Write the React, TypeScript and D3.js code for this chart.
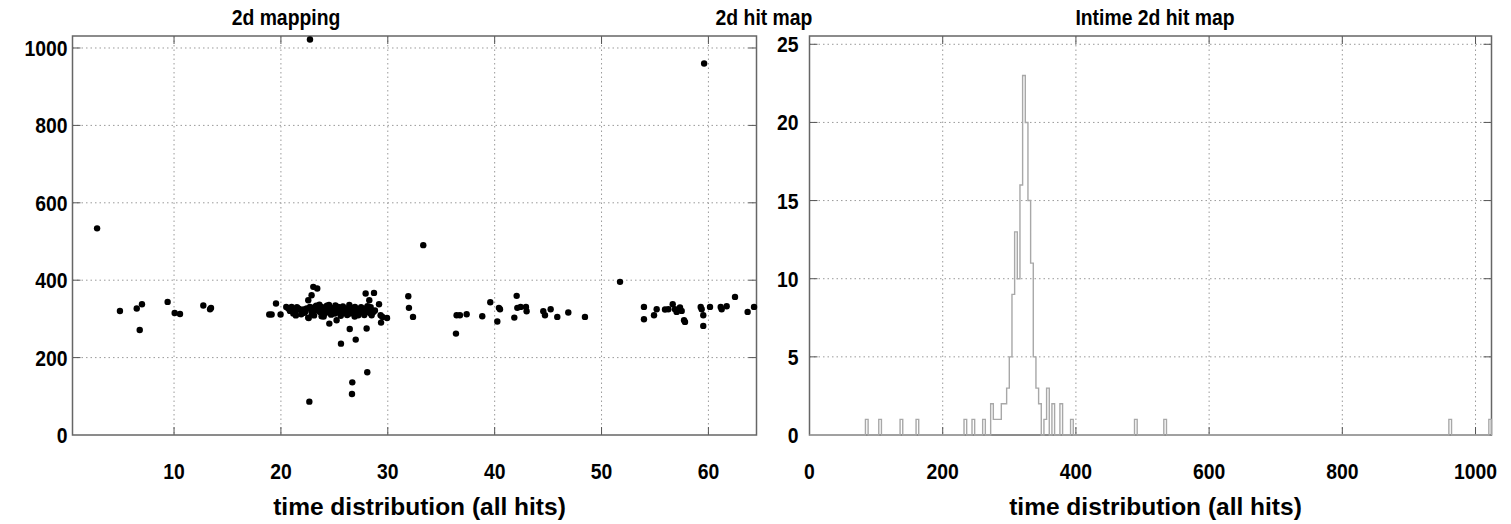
import React, { useEffect, useRef } from "react";
import * as d3 from "d3";

// scatter: channel vs time
const mapX = [
  2.8, 4.94, 6.51, 7.0, 6.79, 9.4, 10.06, 10.56, 12.74, 13.37, 13.46,
  18.91, 19.13, 19.54, 19.97,
  20.69, 20.85, 21.07, 21.16, 21.32, 21.63, 21.78, 21.94, 22.1, 22.41, 22.72, 22.87, 23.03, 23.19, 23.34, 23.5,
  23.65, 23.81, 23.97, 24.12, 24.28, 24.43, 24.59, 24.75, 24.9, 25.06, 25.21, 25.37, 25.53, 25.68, 25.84, 25.99,
  26.15, 26.31, 26.46, 26.62, 26.77, 26.93, 27.09, 27.24, 27.4, 27.55, 27.71, 28.02, 28.18, 28.33, 28.49, 28.65,
  21.0, 21.9, 22.3, 22.9, 23.3, 23.8, 24.3, 24.7, 25.0, 25.4, 25.8, 26.2, 26.6, 27.0, 27.5, 27.9, 28.4, 28.8,
  23.1, 24.0, 25.6, 26.9, 22.2, 21.4, 20.5, 27.8, 28.1, 25.1, 23.6, 24.5, 26.4, 21.5, 29.5,
  22.56, 23.81, 24.53, 25.21, 26.44, 27.0, 25.62, 28.02, 29.37, 29.33, 29.18, 27.93, 28.71, 28.27, 23.03, 23.4,
  22.87, 22.56, 22.6, 29.93,
  22.72, 22.66, 26.65, 26.68, 28.08,
  31.92, 31.98, 32.36, 33.32, 36.38, 36.44, 36.75, 37.38, 38.84, 39.59, 40.4, 40.5, 40.25, 41.84, 42.06, 42.12,
  42.43, 42.93, 42.99, 44.55, 44.71, 45.24, 45.86, 46.89, 48.45, 51.73, 53.97, 53.97, 54.91, 55.16, 55.94, 56.25,
  56.66, 56.87, 57.03, 57.34, 57.5, 57.72, 57.81, 59.28, 59.37, 59.52, 59.52, 60.15, 59.6, 61.15, 61.24, 61.71,
  62.49, 63.67, 64.27,
];
const mapY = [
  534, 320.6, 326.8, 337.9, 271.4, 343.9, 315.4, 312.8, 334.5, 325, 328.3,
  311.2, 311.2, 339.6, 311.2,
  326.7, 320.7, 325, 313.8, 316.3, 326.7, 324.1, 319.8, 324.1, 326.7, 331, 320.7, 326.7, 331, 322.4, 326.7,
  318.1, 331, 322.4, 313.8, 329.3, 322.4, 318.1, 326.7, 318.1, 313.8, 322.4, 331, 326.7, 313.8, 322.4, 316.3,
  326.7, 318.1, 313.8, 324.1, 318.1, 331, 319.8, 309.4, 320.7, 324.1, 316.3, 318.1, 324.1, 315.5, 309.4, 318.1,
  331, 312, 320, 314, 334, 317, 334, 311, 328, 317, 332, 310, 329, 313, 330, 327, 330, 322,
  309, 306, 308, 306, 316, 309, 331, 310, 333, 335, 337, 336, 336, 330, 305,
  303.4, 306.9, 287.9, 296.5, 274, 246.5, 236.1, 275, 290.5, 309.4, 337.9, 365.5, 367.2, 348.3, 382.8, 378.4,
  361.2, 348.3, 302.5, 302.5,
  1022, 86.2, 105.8, 136, 162,
  358.6, 328.5, 305.2, 490.6, 262, 309.5, 309.5, 312.1, 306.9, 343.1, 328.5, 325, 293.1, 303.4, 359.5, 328.5,
  331, 331, 319.8, 319.8, 309.5, 325, 305.2, 316.4, 305.2, 395.7, 331, 299.1, 309.5, 325, 324.1, 325,
  338, 325, 318.1, 329.3, 320.7, 296.5, 292.2, 331, 325, 309.5, 281.9, 331, 960, 331, 325, 332.8,
  356.9, 318.1, 331,
];

// time histogram, 4-count wide bins from 0 to 1024, only filled bins listed
const histBinStart = [
  84, 104, 136, 160, 232, 244, 260, 272, 276, 280, 284, 288, 292, 296, 300, 304, 308, 312, 316, 320, 324, 328,
  332, 336, 340, 344, 352, 356, 364, 376, 392, 488, 532, 960, 1020,
];
const histCount = [
  1, 1, 1, 1, 1, 1, 1, 2, 1, 1, 1, 2, 2, 3, 5, 9, 13, 10, 16, 23, 20, 15,
  11, 5, 3, 2, 1, 3, 2, 2, 1, 1, 1, 1, 1,
];
const binWidth = 4;
const histMax = 1024;

const mapXTicks = [10, 20, 30, 40, 50, 60];
const mapYTicks = [0, 200, 400, 600, 800, 1000];
const histXTicks = [0, 200, 400, 600, 800, 1000];
const histYTicks = [0, 5, 10, 15, 20, 25];

const App = () => {
  const chartRef = useRef<SVGSVGElement>(null);

  useEffect(() => {
    const svg = d3.select(chartRef.current);
    svg.selectAll("*").remove();

    const top = 36;
    const bottom = 435;
    const font = "'Liberation Sans', Arial, Helvetica, sans-serif";

    // ROOT style narrow bold labels
    const label = (g: any, text: string | number, x: number, y: number, anchor: string, size = 22) =>
      g
        .append("text")
        .attr("transform", `translate(${x},${y}) scale(0.88,1)`)
        .attr("text-anchor", anchor)
        .style("font-family", font)
        .style("font-weight", "bold")
        .style("font-size", `${size}px`)
        .text(text);

    const panel = (x: any, y: any, xTicks: number[], yTicks: number[], labelGap: number) => {
      const g = svg.append("g");
      const [xl, xr] = x.range();
      const inX = xTicks.filter((t) => x(t) > xl + 1 && x(t) < xr - 1);
      const inY = yTicks.filter((t) => y(t) < bottom - 1);

      // dotted grid
      g.selectAll(".gx")
        .data(inX)
        .enter()
        .append("line")
        .attr("x1", (d) => x(d))
        .attr("x2", (d) => x(d))
        .attr("y1", top)
        .attr("y2", bottom)
        .attr("stroke", "#9a9a9a")
        .attr("stroke-dasharray", "1.5,3");
      g.selectAll(".gy")
        .data(inY)
        .enter()
        .append("line")
        .attr("x1", xl)
        .attr("x2", xr)
        .attr("y1", (d) => y(d))
        .attr("y2", (d) => y(d))
        .attr("stroke", "#9a9a9a")
        .attr("stroke-dasharray", "1.5,3");

      // tick marks on all four sides
      inX.forEach((t) => {
        g.append("line").attr("x1", x(t)).attr("x2", x(t)).attr("y1", bottom).attr("y2", bottom - 8).attr("stroke", "#555");
        g.append("line").attr("x1", x(t)).attr("x2", x(t)).attr("y1", top).attr("y2", top + 8).attr("stroke", "#555");
      });
      inY.forEach((t) => {
        g.append("line").attr("x1", xl).attr("x2", xl + 8).attr("y1", y(t)).attr("y2", y(t)).attr("stroke", "#555");
        g.append("line").attr("x1", xr).attr("x2", xr - 8).attr("y1", y(t)).attr("y2", y(t)).attr("stroke", "#555");
      });

      // frame
      g.append("rect")
        .attr("x", xl)
        .attr("y", top)
        .attr("width", xr - xl)
        .attr("height", bottom - top)
        .attr("fill", "none")
        .attr("stroke", "#666")
        .attr("stroke-width", 1.5);

      // tick labels
      xTicks.forEach((t) => label(g, t, x(t), 479, "middle"));
      yTicks.forEach((t) => label(g, t, xl - labelGap, y(t) + 8, "end"));

      // axis title
      g.append("text")
        .attr("x", (xl + xr) / 2 + 5)
        .attr("y", 515)
        .attr("text-anchor", "middle")
        .style("font-family", font)
        .style("font-weight", "bold")
        .style("font-size", "24.5px")
        .text("time distribution (all hits)");
      return g;
    };

    // left: 2d mapping scatter
    const x1 = d3.scaleLinear().domain([0.5, 64.5]).range([72.5, 756.5]);
    const y1 = d3.scaleLinear().domain([0, 1031]).range([bottom, top]);
    const left = panel(x1, y1, mapXTicks, mapYTicks, 5);
    left
      .selectAll(".dot")
      .data(mapX.map((v, i) => [v, mapY[i]]))
      .enter()
      .append("circle")
      .attr("cx", (d) => x1(d[0]))
      .attr("cy", (d) => y1(d[1]))
      .attr("r", 3.2)
      .attr("fill", "#000");

    // right: intime histogram
    const x2 = d3.scaleLinear().domain([0, histMax]).range([809.5, 1491.5]);
    const y2 = d3.scaleLinear().domain([0, 25.53]).range([bottom, top]);
    const right = panel(x2, y2, histXTicks, histYTicks, 11);
    const nBins = histMax / binWidth;
    const counts = new Array(nBins).fill(0);
    histBinStart.forEach((s, i) => {
      counts[Math.floor(s / binWidth)] = histCount[i];
    });
    const pts: [number, number][] = counts.map((c, i) => [i * binWidth, c]);
    pts.push([histMax, counts[nBins - 1]]);
    pts.push([histMax, 0]);
    const step = d3
      .line<[number, number]>()
      .x((d) => x2(d[0]))
      .y((d) => y2(d[1]))
      .curve(d3.curveStepAfter);
    right
      .append("path")
      .attr("d", step(pts))
      .attr("fill", "none")
      .attr("stroke", "#a8a8a8")
      .attr("stroke-width", 1.4);

    // titles
    const titles: [string, number][] = [
      ["2d mapping", 286],
      ["2d hit map", 764],
      ["Intime 2d hit map", 1155],
    ];
    titles.forEach(([t, cx]) => label(svg, t, cx, 25, "middle", 22));

    return () => {
      d3.select(chartRef.current).selectAll("*").remove();
    };
  }, []);

  return (
    <svg
      ref={chartRef}
      width={1511}
      height={524}
      style={{ position: "absolute", left: 0, top: 0, background: "#fff" }}
    ></svg>
  );
};

export default App;
